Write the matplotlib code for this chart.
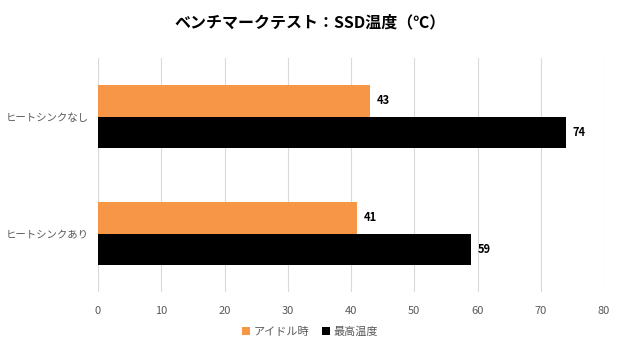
import matplotlib
matplotlib.use("Agg")
import matplotlib.pyplot as plt
import numpy as np

plt.rcParams['font.family'] = ['Noto Sans CJK JP', 'DejaVu Sans']

# データ
categories = ['ヒートシンクなし', 'ヒートシンクあり']
idle = [43, 41]
peak = [74, 59]
series_names = ['アイドル時', '最高温度']
xticks = [0, 10, 20, 30, 40, 50, 60, 70, 80]

fig = plt.figure(figsize=(6.2, 3.5), dpi=100)
ax = fig.add_axes([98 / 620, 1 - 292 / 350, 506 / 620, 234 / 350])

y = np.arange(len(categories))
h = 0.265
b1 = ax.barh(y - h / 2, idle, height=h, color='#F79646', label=series_names[0])
b2 = ax.barh(y + h / 2, peak, height=h, color='#000000', label=series_names[1])

for bars in (b1, b2):
    for r in bars:
        ax.text(r.get_width() + 1, r.get_y() + r.get_height() / 2, f'{int(r.get_width())}',
                va='center', ha='left', fontsize=8, fontweight='bold', color='#000000')

ax.set_ylim(1.5, -0.5)
ax.set_xlim(0, 80)
ax.set_xticks(xticks)
ax.set_yticks(y)
ax.set_yticklabels(categories)
ax.tick_params(axis='both', length=0, labelsize=8, colors='#595959')
ax.tick_params(axis='y', labelsize=7.5, pad=7)
ax.tick_params(axis='x', pad=10)
ax.grid(axis='x', color='#D9D9D9', linewidth=0.8)
ax.set_axisbelow(True)
for s in ax.spines.values():
    s.set_visible(False)

fig.text(0.5, 1 - 22 / 350, 'ベンチマークテスト：SSD温度（℃）', ha='center', va='center',
         fontsize=11.5, fontweight='bold', color='#000000')

fig.legend(handles=[b1, b2], labels=series_names, loc='center', bbox_to_anchor=(0.5, 1 - 332 / 350),
           ncol=2, frameon=False, fontsize=8, handlelength=0.7, handleheight=0.7,
           handletextpad=0.3, columnspacing=1.2, labelcolor='#595959')

fig.savefig('out.png', dpi=100)
